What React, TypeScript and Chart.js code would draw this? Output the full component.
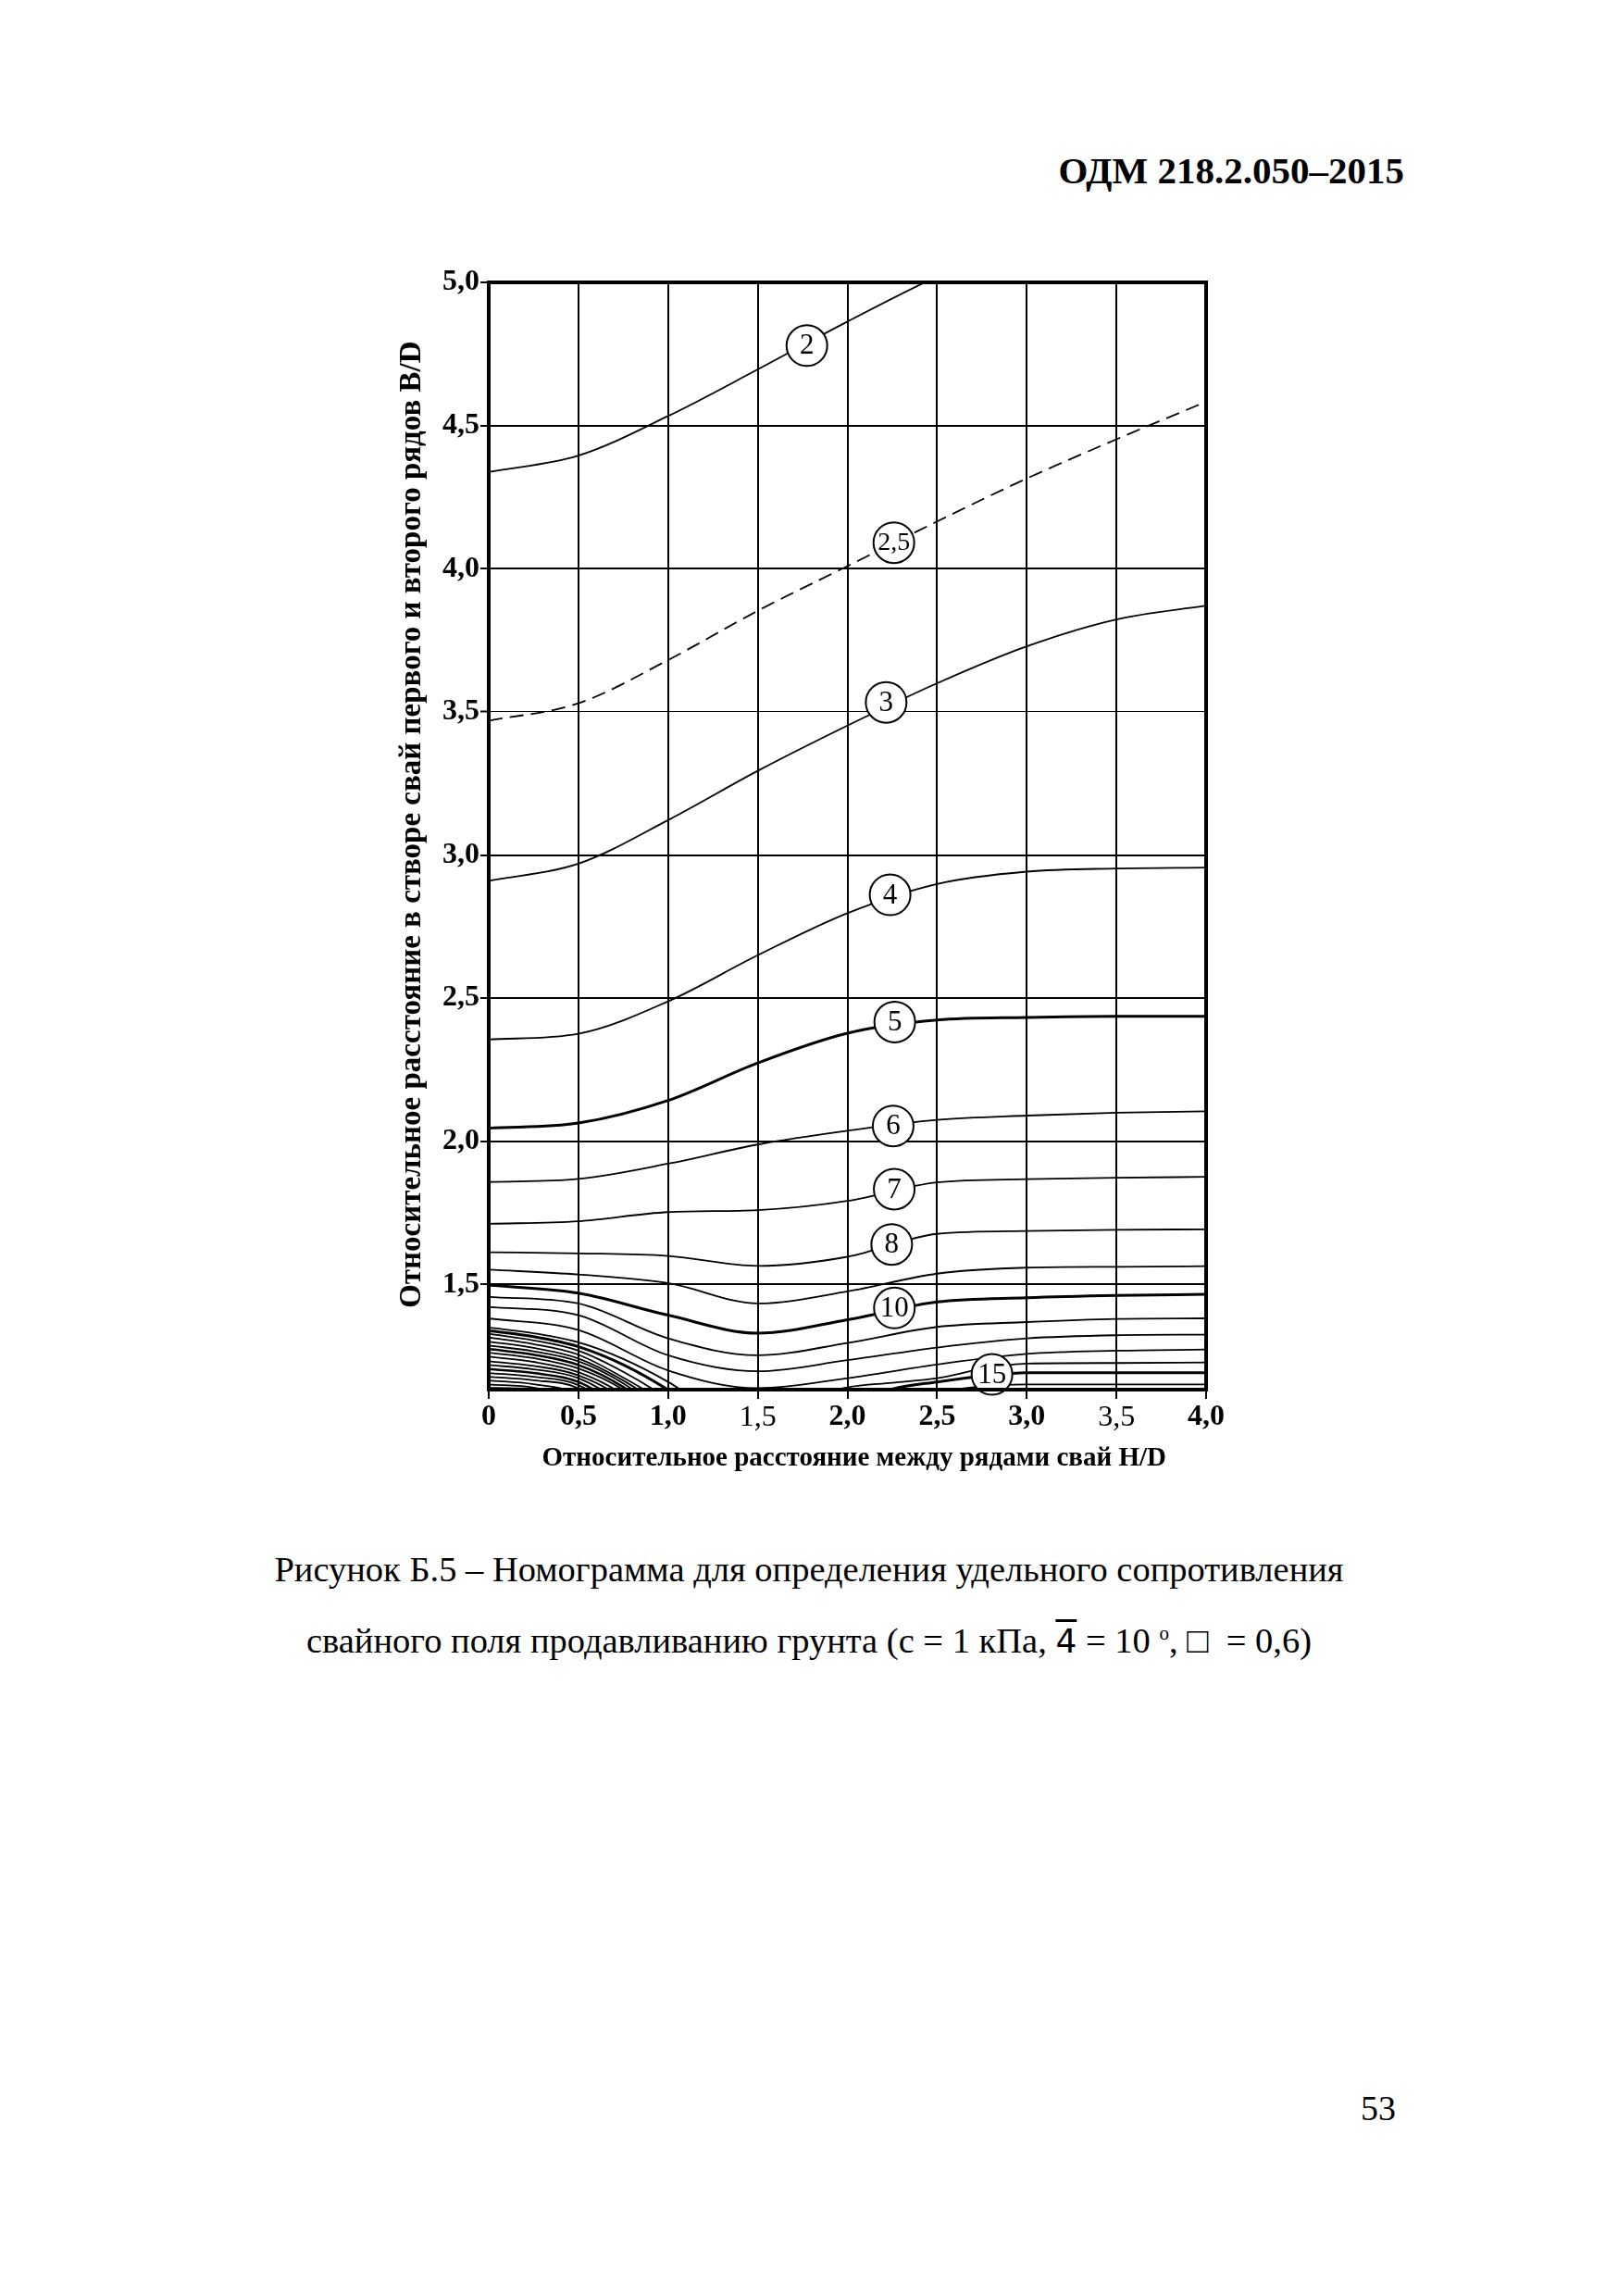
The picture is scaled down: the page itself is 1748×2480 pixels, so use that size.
import React, { useEffect, useRef } from 'react';
import { Chart, registerables } from 'chart.js';

Chart.register(...registerables);

// ---- data ----
const HD = [0, 0.5, 1.0, 1.5, 2.0, 2.5, 3.0, 3.5, 4.0];
const HD_FINE = [0, 0.25, 0.5, 0.75, 1.0, 1.25, 1.5, 1.75, 2.0, 2.25, 2.5, 2.75, 3.0, 3.5, 4.0];
const X_TICKS = [0, 0.5, 1.0, 1.5, 2.0, 2.5, 3.0, 3.5, 4.0];
const Y_TICKS = [1.5, 2.0, 2.5, 3.0, 3.5, 4.0, 4.5, 5.0];
const Y_MIN = 1.133;
const Y_MAX = 5.0;

const C2 = [4.338, 4.395, 4.533, 4.696, 4.863, 5.02, 5.15, 5.3, 5.45];
const C2_5 = [3.469, 3.53, 3.681, 3.853, 4.009, 4.165, 4.315, 4.452, 4.583];
const C3 = [2.91, 2.97, 3.122, 3.294, 3.452, 3.6, 3.729, 3.823, 3.871];
const C4 = [2.356, 2.376, 2.489, 2.65, 2.797, 2.899, 2.942, 2.953, 2.956];
const C5 = [2.046, 2.064, 2.143, 2.274, 2.378, 2.424, 2.433, 2.437, 2.437];
const C6 = [1.858, 1.869, 1.922, 1.989, 2.037, 2.075, 2.09, 2.1, 2.105];
const C7 = [1.712, 1.721, 1.753, 1.76, 1.792, 1.857, 1.868, 1.873, 1.876];
const C8 = [1.613, 1.609, 1.6, 1.565, 1.597, 1.677, 1.687, 1.691, 1.693];
const C9 = [1.552, 1.535, 1.505, 1.434, 1.476, 1.538, 1.559, 1.562, 1.564];
const C10 = [1.498, 1.47, 1.393, 1.33, 1.377, 1.439, 1.454, 1.462, 1.466];
const C11 = [1.457, 1.434, 1.312, 1.253, 1.296, 1.352, 1.369, 1.38, 1.382];
const C12 = [1.422, 1.393, 1.253, 1.197, 1.236, 1.28, 1.312, 1.323, 1.325];
const C13 = [1.382, 1.341, 1.2, 1.138, 1.173, 1.221, 1.258, 1.269, 1.273];

// curves that dive under the bottom edge (values on HD_FINE)
const C14 = [1.35, 1.33, 1.298, 1.24, 1.16, 1.06, 1.0, 1.1, 1.141, 1.157, 1.173, 1.205, 1.224, 1.226, 1.228];
const C15 = [1.339, 1.318, 1.283, 1.22, 1.132, 1.02, 0.95, 0.98, 1.08, 1.135, 1.16, 1.18, 1.192, 1.192, 1.192];
const C16 = [1.328, 1.305, 1.269, 1.195, 1.1, 0.98, 0.92, 0.92, 0.98, 1.06, 1.12, 1.145, 1.151, 1.151, 1.151];
const C17 = [1.315, 1.292, 1.255, 1.175, 1.08, 0.95];
const C18 = [1.301, 1.279, 1.242, 1.165, 1.06, 0.93];
const C19 = [1.287, 1.267, 1.232, 1.155, 1.04];
const C20 = [1.275, 1.255, 1.219, 1.142, 1.02];
const C21 = [1.262, 1.243, 1.207, 1.132, 1.0];
const C22 = [1.248, 1.23, 1.194, 1.115, 0.98];
const C23 = [1.232, 1.216, 1.183, 1.1, 0.95];
const C24 = [1.219, 1.204, 1.173, 1.08, 0.93];
const C25 = [1.205, 1.191, 1.16, 1.06, 0.9];
const C26 = [1.191, 1.178, 1.149, 1.04, 0.88];
const C27 = [1.178, 1.166, 1.138, 1.02];
const C28 = [1.165, 1.152, 1.115, 0.98];
const C29 = [1.151, 1.14, 1.095, 0.96];
const C30 = [1.138, 1.134, 1.075];

const LABEL_TEXT = ['2', '2,5', '3', '4', '5', '6', '7', '8', '10', '15'];
const LABEL_X = [1.774, 2.259, 2.216, 2.238, 2.264, 2.255, 2.261, 2.247, 2.262, 2.806];
const LABEL_Y = [4.779, 4.091, 3.533, 2.861, 2.417, 2.054, 1.833, 1.64, 1.418, 1.186];

const Y_TITLE = 'Относительное расстояние в створе свай первого и второго рядов B/D';
const X_TITLE = 'Относительное расстояние между рядами свай H/D';

const fmt = (v: number) => (v === 0 ? '0' : Number(v).toFixed(1).replace('.', ','));

const zip = (xs: number[], ys: number[]) => ys.map((y, i) => ({ x: xs[i], y }));

const SERIF = '"Liberation Serif", "Times New Roman", serif';

function curve(xs: number[], ys: number[], width = 1.8, dash: number[] = []) {
  return {
    type: 'line' as const,
    data: zip(xs, ys),
    borderColor: '#000',
    backgroundColor: '#000',
    borderWidth: width,
    borderDash: dash,
    pointRadius: 0,
    pointHoverRadius: 0,
    fill: false,
    cubicInterpolationMode: 'monotone' as const,
    clip: 1,
  };
}

const labelPlugin = {
  id: 'curveLabels',
  afterDatasetsDraw(chart: any) {
    const ctx = chart.ctx;
    const a = chart.chartArea;
    ctx.save();
    ctx.lineWidth = 4;
    ctx.strokeStyle = '#000';
    ctx.strokeRect(a.left, a.top, a.right - a.left, a.bottom - a.top);
    const meta = chart.getDatasetMeta(0);
    ctx.fillStyle = '#000';
    ctx.textAlign = 'center';
    ctx.textBaseline = 'middle';
    meta.data.forEach((pt: any, i: number) => {
      const t = LABEL_TEXT[i];
      ctx.font = `${t.length > 2 ? 28 : 31}px ${SERIF}`;
      ctx.fillText(t, pt.x, pt.y + 1);
    });
    ctx.restore();
  },
};

function NomogramChart() {
  const ref = useRef<HTMLCanvasElement | null>(null);
  useEffect(() => {
    if (!ref.current) return;
    const datasets: any[] = [
      {
        type: 'scatter',
        data: zip(LABEL_X, LABEL_Y),
        pointRadius: 22,
        pointHoverRadius: 22,
        pointBackgroundColor: '#fff',
        pointBorderColor: '#000',
        pointBorderWidth: 2,
        showLine: false,
        clip: false,
        order: -1,
      },
      curve(HD, C2),
      curve(HD, C2_5, 1.8, [15, 8]),
      curve(HD, C3),
      curve(HD, C4),
      curve(HD, C5, 3),
      curve(HD, C6),
      curve(HD, C7),
      curve(HD, C8),
      curve(HD, C9),
      curve(HD, C10, 3),
      curve(HD, C11),
      curve(HD, C12),
      curve(HD, C13),
      curve(HD_FINE, C14),
      curve(HD_FINE, C15, 3),
      curve(HD_FINE, C16),
      curve(HD_FINE, C17),
      curve(HD_FINE, C18),
      curve(HD_FINE, C19),
      curve(HD_FINE, C20, 2.6),
      curve(HD_FINE, C21),
      curve(HD_FINE, C22),
      curve(HD_FINE, C23),
      curve(HD_FINE, C24),
      curve(HD_FINE, C25, 2.6),
      curve(HD_FINE, C26),
      curve(HD_FINE, C27),
      curve(HD_FINE, C28),
      curve(HD_FINE, C29),
      curve(HD_FINE, C30, 2.6),
    ];
    const chart = new Chart(ref.current, {
      type: 'line',
      data: { datasets },
      plugins: [labelPlugin],
      options: {
        animation: false,
        responsive: false,
        devicePixelRatio: 1,
        events: [],
        layout: { padding: { top: 20, right: 37, left: 0, bottom: 0 } },
        plugins: { legend: { display: false }, tooltip: { enabled: false }, title: { display: false } },
        scales: {
          x: {
            type: 'linear',
            min: 0,
            max: 4,
            afterBuildTicks: (s: any) => {
              s.ticks = X_TICKS.map((v) => ({ value: v }));
            },
            afterFit: (s: any) => {
              s.height = 100;
            },
            border: { display: false },
            grid: {
              color: '#000',
              lineWidth: 2,
              drawTicks: true,
              tickLength: 10,
              tickColor: '#000',
              tickWidth: 2,
            },
            ticks: {
              color: '#000',
              autoSkip: false,
              maxRotation: 0,
              padding: 1,
              callback: (v: any) => fmt(Number(v)),
              font: (c: any) => ({
                family: SERIF,
                size: 32,
                weight: c.tick && (c.tick.value === 1.5 || c.tick.value === 3.5) ? 'normal' : 'bold',
              }),
            },
            title: {
              display: true,
              text: '  ' + X_TITLE,
              color: '#000',
              font: { family: SERIF, size: 29, weight: 'bold' },
              padding: { top: 0, bottom: 8 },
            },
          },
          y: {
            type: 'linear',
            min: Y_MIN,
            max: Y_MAX,
            afterBuildTicks: (s: any) => {
              s.ticks = Y_TICKS.map((v) => ({ value: v }));
            },
            afterFit: (s: any) => {
              s.width = 128;
            },
            border: { display: false },
            grid: {
              color: '#000',
              lineWidth: (c: any) => (c.tick && c.tick.value === 3.5 ? 1 : 2),
              drawTicks: true,
              tickLength: 9,
              tickColor: '#000',
              tickWidth: 2,
            },
            ticks: {
              color: '#000',
              autoSkip: false,
              padding: 1,
              callback: (v: any) => fmt(Number(v)),
              font: { family: SERIF, size: 32, weight: 'bold' },
            },
            title: {
              display: true,
              text: '   ' + Y_TITLE,
              color: '#000',
              font: { family: SERIF, size: 33, weight: 'bold' },
              padding: { top: 26, bottom: 0 },
            },
          },
        },
      } as any,
    });
    return () => chart.destroy();
  }, []);
  return (
    <canvas
      ref={ref}
      width={940}
      height={1320}
      style={{ position: 'absolute', left: 400, top: 281, width: 940, height: 1320 }}
    />
  );
}

export default function App() {
  const text: React.CSSProperties = {
    position: 'absolute',
    fontFamily: SERIF,
    color: '#000',
    lineHeight: 1,
    whiteSpace: 'nowrap',
    margin: 0,
  };
  return (
    <div
      style={{
        position: 'absolute',
        left: 0,
        top: 0,
        width: 1748,
        height: 2480,
        background: '#fff',
        overflow: 'hidden',
      }}
    >
      <div style={{ ...text, right: 231, top: 164, fontSize: 41, fontWeight: 'bold' }}>ОДМ 218.2.050–2015</div>
      <NomogramChart />
      <div style={{ ...text, left: 0, width: 1748, textAlign: 'center', top: 1676, fontSize: 38.5 }}>
        Рисунок Б.5 – Номограмма для определения удельного сопротивления
      </div>
      <div style={{ ...text, left: 0, width: 1748, textAlign: 'center', top: 1753, fontSize: 38.5 }}>
        свайного поля продавливанию грунта (с = 1 кПа,{' '}
        <span style={{ fontFamily: '"DejaVu Sans", sans-serif', textDecoration: 'overline', fontSize: 36 }}>4</span> = 10{' '}
        <sup style={{ fontSize: 21 }}>о</sup>, □&nbsp; = 0,6)
      </div>
      <div style={{ ...text, right: 240, top: 2258, fontSize: 38 }}>53</div>
    </div>
  );
}
